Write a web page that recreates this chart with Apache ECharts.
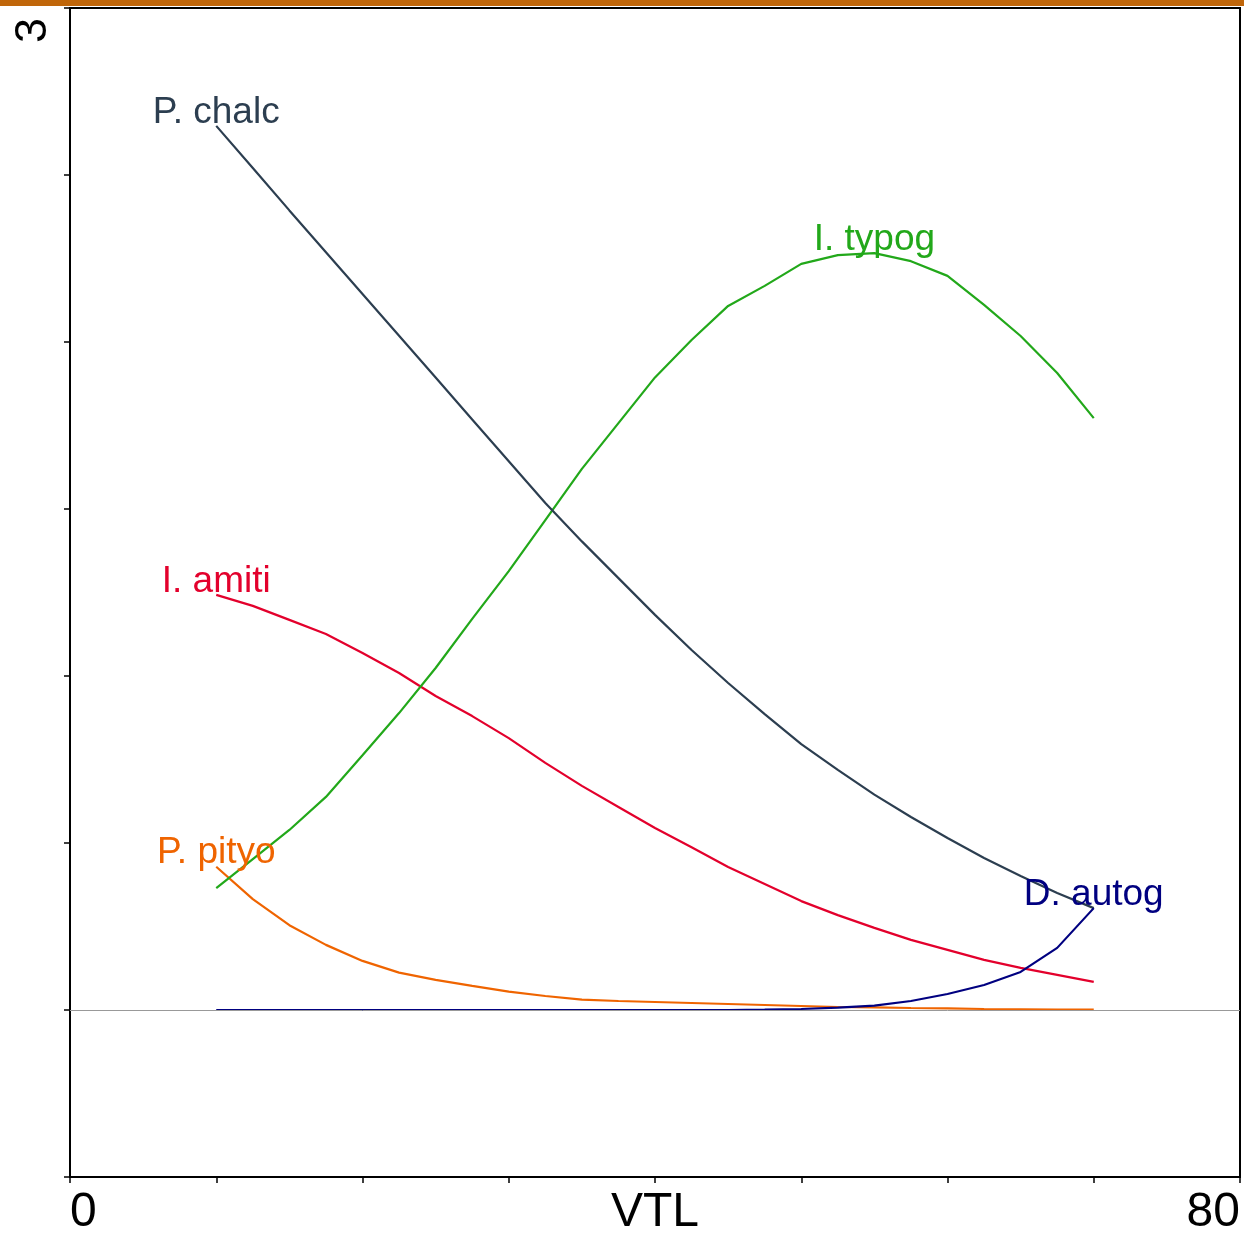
<!DOCTYPE html>
<html>
<head>
<meta charset="utf-8">
<title>VTL</title>
<script src="https://cdn.jsdelivr.net/npm/echarts@6/dist/echarts.min.js"></script>
<style>
	html, body { margin: 0; padding: 0; background: #fff; }
	#container { width: 1244px; height: 1240px; }
</style>
</head>
<body>
<div id="container"></div>
<script>
// x positions (VTL)
var vtl = [10, 12.5, 15, 17.5, 20, 22.5, 25, 27.5, 30, 32.5, 35, 37.5, 40,
	42.5, 45, 47.5, 50, 52.5, 55, 57.5, 60, 62.5, 65, 67.5, 70];

// curves
var chalc = [2.647, 2.521, 2.394, 2.269, 2.144, 2.019, 1.894, 1.768, 1.643, 1.518, 1.403, 1.293, 1.183,
	1.078, 0.979, 0.886, 0.796, 0.719, 0.645, 0.578, 0.515, 0.455, 0.401, 0.350, 0.305];
var typog = [0.365, 0.452, 0.539, 0.638, 0.763, 0.889, 1.024, 1.171, 1.314, 1.467, 1.620, 1.757, 1.894,
	2.006, 2.108, 2.168, 2.234, 2.260, 2.266, 2.242, 2.198, 2.111, 2.018, 1.907, 1.772];
var amiti = [1.243, 1.210, 1.168, 1.126, 1.069, 1.009, 0.940, 0.880, 0.814, 0.740, 0.671, 0.608, 0.545,
	0.487, 0.428, 0.377, 0.326, 0.284, 0.246, 0.210, 0.180, 0.150, 0.126, 0.105, 0.084];
var pityo = [0.429, 0.332, 0.254, 0.195, 0.147, 0.112, 0.090, 0.072, 0.055, 0.042, 0.031, 0.027, 0.024,
	0.021, 0.018, 0.015, 0.012, 0.009, 0.008, 0.006, 0.005, 0.003, 0.002, 0.001, 0.001];
var autog = [0, 0, 0, 0, 0, 0, 0, 0, 0, 0, 0, 0, 0,
	0, 0, 0.001, 0.003, 0.007, 0.013, 0.027, 0.048, 0.075, 0.114, 0.186, 0.305];

var xTicks = [0, 80];
var yTicks = [3];

var FONT = "'Liberation Sans', Arial, sans-serif";

// build [x,y] pairs, put the name label on one point
function makeData(values, labelIdx, color, text) {
	return values.map(function (v, i) {
		var item = { value: [vtl[i], v] };
		if (i === labelIdx) {
			item.label = {
				show: true,
				position: 'top',
				distance: -5,
				formatter: text,
				color: color,
				fontFamily: FONT,
				fontSize: 37
			};
		}
		return item;
	});
}

function lineSeries(name, values, color, labelIdx, extra) {
	var s = {
		name: name,
		type: 'line',
		showSymbol: true,
		showAllSymbol: true,
		symbol: 'circle',
		symbolSize: 0,
		lineStyle: { color: color, width: 2.2 },
		itemStyle: { color: color },
		label: { show: false },
		emphasis: { disabled: true },
		data: makeData(values, labelIdx, color, name)
	};
	return Object.assign(s, extra || {});
}

var myChart = echarts.init(document.getElementById('container'));

var option = {
	animation: false,
	backgroundColor: '#fff',
	graphic: [{
		type: 'rect', // orange strip across the top
		shape: { x: 0, y: 0, width: 1244, height: 6 },
		style: { fill: '#c0660a' }
	}],
	grid: {
		left: 70, right: 4, top: 8, bottom: 63,
		outerBoundsMode: 'none',
		containLabel: false,
		show: true,
		borderColor: '#000',
		borderWidth: 2
	},
	xAxis: {
		type: 'value',
		min: 0, max: 80, interval: 10,
		name: 'VTL',
		nameLocation: 'middle',
		nameGap: 12,
		nameMoveOverlap: false,
		nameTextStyle: { fontFamily: FONT, fontSize: 48, color: '#000', verticalAlign: 'top' },
		axisLine: { show: true, onZero: false, lineStyle: { color: '#000', width: 2 } },
		axisTick: { show: true, length: 6, lineStyle: { color: '#000', width: 1.5 } },
		splitLine: { show: false },
		axisLabel: {
			fontFamily: FONT, fontSize: 48, color: '#000', margin: 12,
			alignMinLabel: 'left', alignMaxLabel: 'right',
			formatter: function (v) { return xTicks.indexOf(v) >= 0 ? String(v) : ''; }
		}
	},
	yAxis: {
		type: 'value',
		min: -0.5, max: 3, interval: 0.5,
		axisLine: { show: true, onZero: false, lineStyle: { color: '#000', width: 2 } },
		axisTick: { show: true, length: 6, lineStyle: { color: '#000', width: 1.5 } },
		splitLine: { show: false },
		axisLabel: {
			fontFamily: FONT, fontSize: 45, color: '#000', margin: 14,
			rotate: 90, align: 'right', verticalAlign: 'bottom',
			padding: [0, 10, 0, 0],
			formatter: function (v) { return yTicks.indexOf(v) >= 0 ? String(v) : ''; }
		}
	},
	series: [
		lineSeries('P. pityo', pityo, '#ef6400', 0, {
			markLine: { // zero line
				silent: true,
				symbol: 'none',
				label: { show: false },
				lineStyle: { color: '#999', width: 1, type: 'solid' },
				data: [{ yAxis: 0 }]
			}
		}),
		lineSeries('I. amiti', amiti, '#e3002c', 0),
		lineSeries('I. typog', typog, '#22a81a', 18),
		lineSeries('P. chalc', chalc, '#2c3e50', 0),
		lineSeries('D. autog', autog, '#000080', 24)
	]
};

myChart.setOption(option);
</script>
</body>
</html>
